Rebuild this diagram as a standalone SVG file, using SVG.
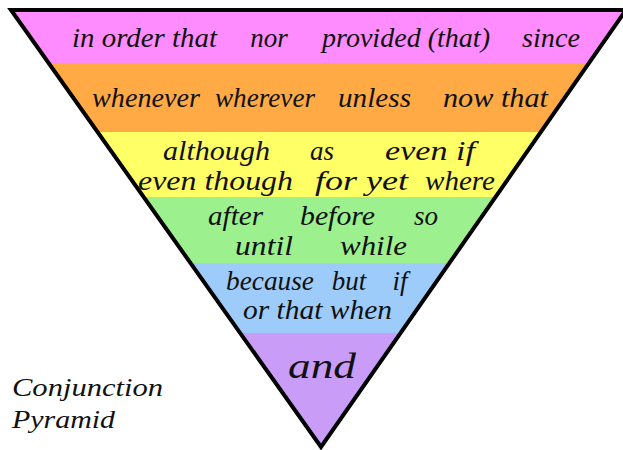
<svg xmlns="http://www.w3.org/2000/svg" width="623" height="450" viewBox="0 0 623 450">
<style>
.t{font-family:"Liberation Serif","DejaVu Serif",serif;font-style:italic;font-size:27px;fill:#111}
.m{text-anchor:middle}
.big{font-size:36px}
.title{font-family:"Liberation Serif","DejaVu Serif",serif;font-style:italic;font-size:26px;fill:#111}
</style>
<defs>
<clipPath id="tri"><polygon points="11,10 626,10 321,447"/></clipPath>
</defs>
<rect width="623" height="450" fill="#ffffff"/>
<g id="bands" clip-path="url(#tri)">
<rect id="band1" x="0" y="10" width="640" height="53" fill="#FF8CFF"/>
<rect id="band2" x="0" y="63" width="640" height="69" fill="#FFAA44"/>
<rect id="band3" x="0" y="132" width="640" height="65" fill="#FFFF66"/>
<rect id="band4" x="0" y="197" width="640" height="66" fill="#9CF08E"/>
<rect id="band5" x="0" y="263" width="640" height="70" fill="#9DCBFA"/>
<rect id="band6" x="0" y="333" width="640" height="120" fill="#C99CF8"/>
</g>
<polygon id="outline" points="11,10 626,10 321,447" fill="none" stroke="#000" stroke-width="4"/>
<g id="row1" class="t">
<text x="72" y="47" textLength="145" lengthAdjust="spacingAndGlyphs">in order that</text>
<text class="m" x="269" y="47">nor</text>
<text x="322" y="47" textLength="168" lengthAdjust="spacingAndGlyphs">provided (that)</text>
<text x="522" y="47" textLength="58" lengthAdjust="spacingAndGlyphs">since</text>
</g>
<g id="row2" class="t">
<text x="92" y="107" textLength="108" lengthAdjust="spacingAndGlyphs">whenever</text>
<text x="215" y="107" textLength="100" lengthAdjust="spacingAndGlyphs">wherever</text>
<text x="338" y="107" textLength="73" lengthAdjust="spacingAndGlyphs">unless</text>
<text x="443" y="107" textLength="105" lengthAdjust="spacingAndGlyphs">now that</text>
</g>
<g id="row3" class="t">
<text x="163" y="160" textLength="107" lengthAdjust="spacingAndGlyphs">although</text>
<text class="m" x="322" y="160">as</text>
<text x="385" y="160" textLength="90" lengthAdjust="spacingAndGlyphs">even if</text>
<text x="138" y="190" textLength="155" lengthAdjust="spacingAndGlyphs">even though</text>
<text x="315" y="190" textLength="93" lengthAdjust="spacingAndGlyphs">for yet</text>
<text x="425" y="190" textLength="70" lengthAdjust="spacingAndGlyphs">where</text>
</g>
<g id="row4" class="t">
<text x="208" y="225" textLength="55" lengthAdjust="spacingAndGlyphs">after</text>
<text x="300" y="225" textLength="75" lengthAdjust="spacingAndGlyphs">before</text>
<text class="m" x="426" y="225">so</text>
<text x="235" y="255" textLength="58" lengthAdjust="spacingAndGlyphs">until</text>
<text x="340" y="255" textLength="67" lengthAdjust="spacingAndGlyphs">while</text>
</g>
<g id="row5" class="t">
<text x="226" y="290" textLength="88" lengthAdjust="spacingAndGlyphs">because</text>
<text class="m" x="349" y="290">but</text>
<text class="m" x="400" y="290">if</text>
<text x="243" y="319" textLength="149" lengthAdjust="spacingAndGlyphs">or that when</text>
</g>
<g id="row6" class="t">
<text class="big" x="288" y="378" textLength="68" lengthAdjust="spacingAndGlyphs">and</text>
</g>
<g id="title" class="title">
<text x="12" y="396" textLength="151" lengthAdjust="spacingAndGlyphs">Conjunction</text>
<text x="12" y="428" textLength="103" lengthAdjust="spacingAndGlyphs">Pyramid</text>
</g>
</svg>
